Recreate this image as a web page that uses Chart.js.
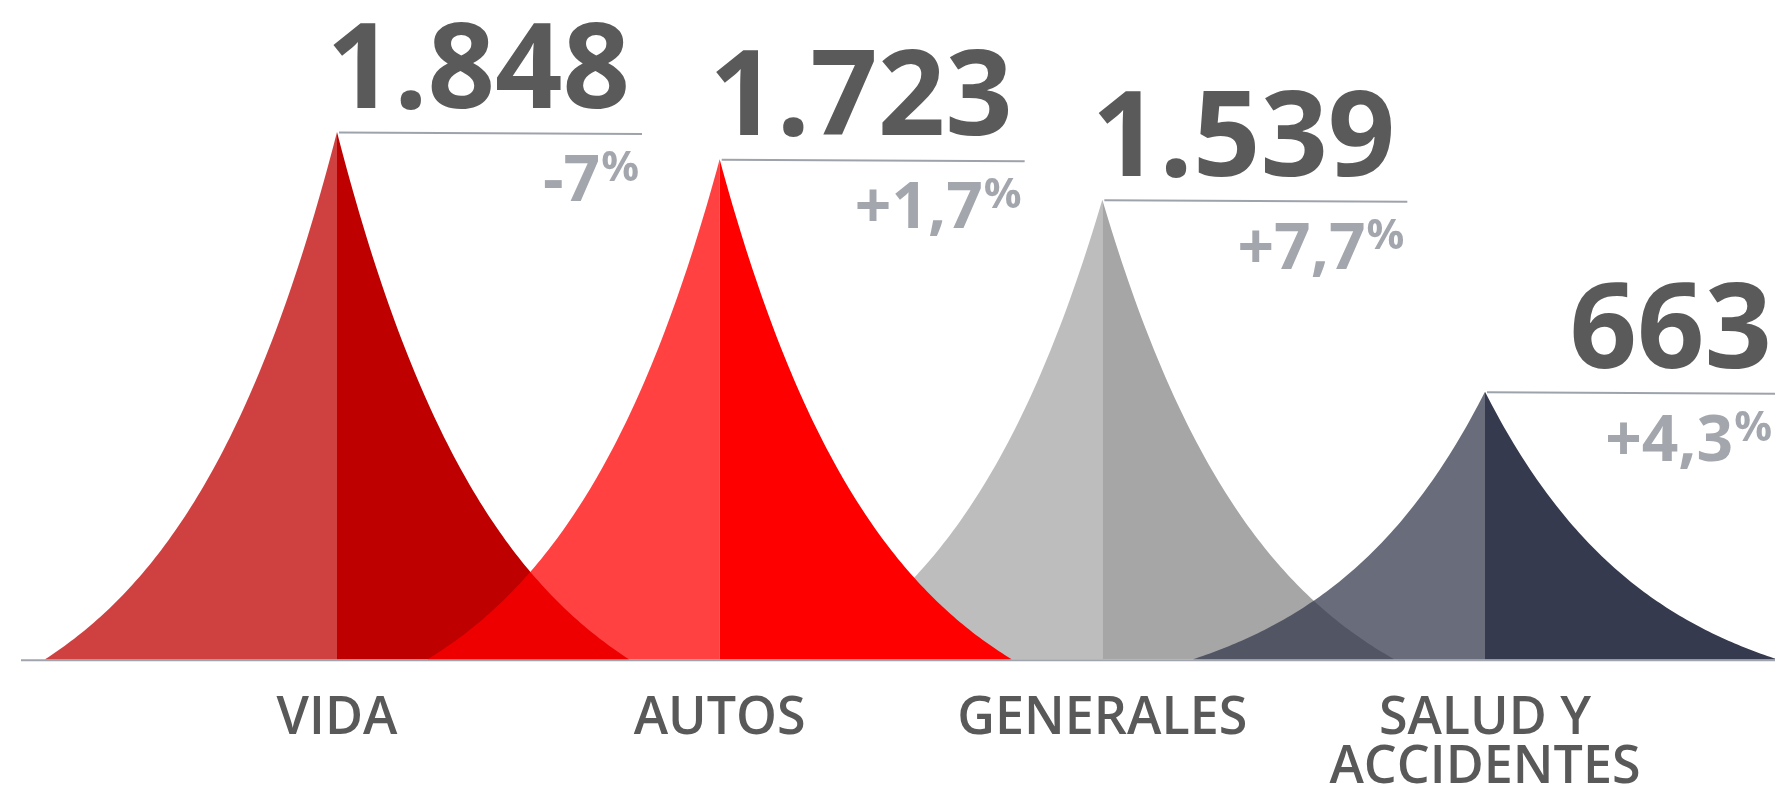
<!DOCTYPE html>
<html>
<head>
<meta charset="utf-8">
<script src="https://cdn.jsdelivr.net/npm/chart.js@4.4.1/dist/chart.umd.min.js"></script>
<style>
html,body{margin:0;padding:0;background:#ffffff;overflow:hidden}
#wrap{width:1775px;height:786px;position:relative}
</style>
</head>
<body>
<div id="wrap"><canvas id="c"></canvas></div>
<script>
// ---- data ----
const categories = [['VIDA'], ['AUTOS'], ['GENERALES'], ['SALUD Y', 'ACCIDENTES']];
const values = [1848, 1723, 1539, 663];
const changes = [-7, 1.7, 7.7, 4.3];
const darkColors = ['#BF0000', '#FF0000', '#A6A6A6', '#353A4E'];
const lightColors = ['rgba(191,0,0,0.745)', 'rgba(255,0,0,0.745)', 'rgba(166,166,166,0.745)', 'rgba(53,58,78,0.745)'];

function fmtValue(v) { return String(v).replace(/\B(?=(\d{3})+(?!\d))/g, '.'); }
function fmtChange(v) { return (v < 0 ? '-' : '+') + String(Math.abs(v)).replace('.', ','); }

const peaksPlugin = {
  id: 'peaks',
  beforeDatasetsDraw(chart) {
    const { ctx, scales: { x, y } } = chart;
    const meta = chart.getDatasetMeta(0);
    const base = y.getPixelForValue(y.min);
    ctx.save();
    // baseline
    ctx.strokeStyle = '#A0A5AD';
    ctx.lineWidth = 2;
    ctx.beginPath();
    ctx.moveTo(21, base + 1);
    ctx.lineTo(chart.width, base + 1);
    ctx.stroke();
    const hw = (x.getPixelForValue(1) - x.getPixelForValue(0)) * 0.763;
    const order = [[0, -1], [0, 1], [2, -1], [1, -1], [1, 1], [2, 1], [3, -1], [3, 1]];
    const k = 1.8, ek = Math.exp(-k), N = 90;
    for (const [i, side] of order) {
      const el = meta.data[i];
      const cx = el.x, top = el.y;
      ctx.beginPath();
      ctx.moveTo(cx, base);
      ctx.lineTo(cx, top);
      for (let s = 1; s <= N; s++) {
        const d = s / N;
        const f = (Math.exp(-k * d) - ek) / (1 - ek);
        ctx.lineTo(cx + side * d * hw, base - f * (base - top));
      }
      ctx.closePath();
      ctx.fillStyle = side < 0 ? lightColors[i] : darkColors[i];
      ctx.fill();
    }
    ctx.restore();
  },
  afterDatasetsDraw(chart) {
    const { ctx } = chart;
    const meta = chart.getDatasetMeta(0);
    ctx.save();
    meta.data.forEach((el, i) => {
      const cx = el.x, top = el.y;
      const maxRight = chart.width - 3;
      // separator line
      ctx.strokeStyle = '#9EA3AB';
      ctx.lineWidth = 2;
      ctx.beginPath();
      ctx.moveTo(cx + 2, top + 0.5);
      ctx.lineTo(Math.min(cx + 305, chart.width), top + 2);
      ctx.stroke();
      // value
      ctx.fillStyle = '#5A5A5A';
      ctx.font = 'bold 118px "Open Sans"';
      ctx.textAlign = 'right';
      ctx.textBaseline = 'alphabetic';
      ctx.fillText(fmtValue(values[i]), Math.min(cx + 293, maxRight), top - 24);
      // change
      const right = Math.min(cx + 302, maxRight);
      ctx.fillStyle = '#A3A7AD';
      ctx.font = 'bold 42px "Open Sans"';
      const pw = ctx.measureText('%').width;
      ctx.fillText('%', right, top + 49);
      ctx.font = 'bold 64px "Open Sans"';
      ctx.fillText(fmtChange(changes[i]), right - pw - 1, top + 69);
    });
    ctx.restore();
  }
};

new Chart(document.getElementById('c'), {
  type: 'bar',
  data: {
    labels: categories,
    datasets: [{
      data: values,
      backgroundColor: 'rgba(0,0,0,0)',
      borderWidth: 0
    }]
  },
  options: {
    responsive: true,
    maintainAspectRatio: false,
    animation: false,
    events: [],
    layout: { padding: { left: 337, right: 290, top: 0, bottom: -42 } },
    plugins: { legend: { display: false }, tooltip: { enabled: false } },
    scales: {
      x: {
        type: 'category',
        offset: false,
        grid: { display: false, drawTicks: false },
        border: { display: false },
        ticks: {
          autoSkip: false,
          maxRotation: 0,
          minRotation: 0,
          padding: 35.5,
          color: '#595959',
          font: { family: 'Open Sans', size: 52, weight: '600', lineHeight: 0.94 }
        }
      },
      y: {
        display: false,
        min: -558,
        max: 2450
      }
    }
  },
  plugins: [peaksPlugin]
});
</script>
</body>
</html>
